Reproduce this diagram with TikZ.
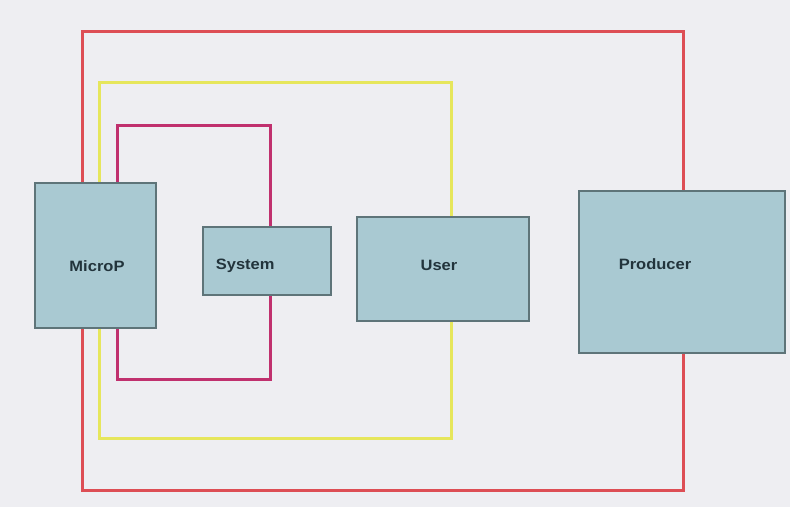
\documentclass[tikz,border=0pt]{standalone}
\usepackage{fontspec}
\setmainfont{Liberation Sans}
\definecolor{bg}{HTML}{EEEEF2}
\definecolor{boxfill}{HTML}{A9C9D2}
\definecolor{boxdraw}{HTML}{5E7479}
\definecolor{lred}{HTML}{DD4E55}
\definecolor{lyellow}{HTML}{E6E65C}
\definecolor{lmag}{HTML}{C0306E}
\definecolor{txt}{HTML}{22343C}
\tikzset{
  blk/.style={draw=boxdraw, fill=boxfill, line width=1.5pt, inner sep=0pt},
  lbl/.style={text=txt, font=\bfseries\fontsize{15}{18}\selectfont, xscale=1.1},
  loopline/.style={line width=3pt, line join=miter},
}
\begin{document}
\begin{tikzpicture}[x=1pt,y=-1pt]
\fill[bg] (0,0) rectangle (790,507);
\useasboundingbox (0,0) rectangle (790,507);
% boxes as shapes
\node[blk, minimum width=121pt, minimum height=145pt] (micro) at (95.5,255.5) {};
\node[blk, minimum width=128pt, minimum height=68pt] (sys) at (267,261) {};
\node[blk, minimum width=172pt, minimum height=104pt] (user) at (443,269) {};
\node[blk, minimum width=206pt, minimum height=162pt] (prod) at (682,272) {};
% loop corners
\coordinate (rTL) at (82,31);
\coordinate (rBR) at (683,490);
\coordinate (yTL) at (99,82);
\coordinate (yBR) at (451,438);
\coordinate (mTL) at (117,125);
\coordinate (mBR) at (270,379);
% red loop
\draw[loopline, lred] (rTL |- micro.north) -- (rTL) -- (rBR |- rTL) -- (rBR |- prod.north);
\draw[loopline, lred] (rBR |- prod.south) -- (rBR) -- (rTL |- rBR) -- (rTL |- micro.south);
% yellow loop
\draw[loopline, lyellow] (yTL |- micro.north) -- (yTL) -- (yBR |- yTL) -- (yBR |- user.north);
\draw[loopline, lyellow] (yBR |- user.south) -- (yBR) -- (yTL |- yBR) -- (yTL |- micro.south);
% magenta loop
\draw[loopline, lmag] (mTL |- micro.north) -- (mTL) -- (mBR |- mTL) -- (mBR |- sys.north);
\draw[loopline, lmag] (mBR |- sys.south) -- (mBR) -- (mTL |- mBR) -- (mTL |- micro.south);
% redraw boxes on top
\node[blk, minimum width=121pt, minimum height=145pt] at (micro) {};
\node[blk, minimum width=128pt, minimum height=68pt] at (sys) {};
\node[blk, minimum width=172pt, minimum height=104pt] at (user) {};
\node[blk, minimum width=206pt, minimum height=162pt] at (prod) {};
% labels
\node[lbl] (tmicro) at (97,266) {MicroP};
\node[lbl, anchor=west] (tsys) at (212,266) {System};
\node[lbl] (tuser) at (439,265) {User};
\node[lbl] (tprod) at (655,264) {Producer};
\end{tikzpicture}
\end{document}
